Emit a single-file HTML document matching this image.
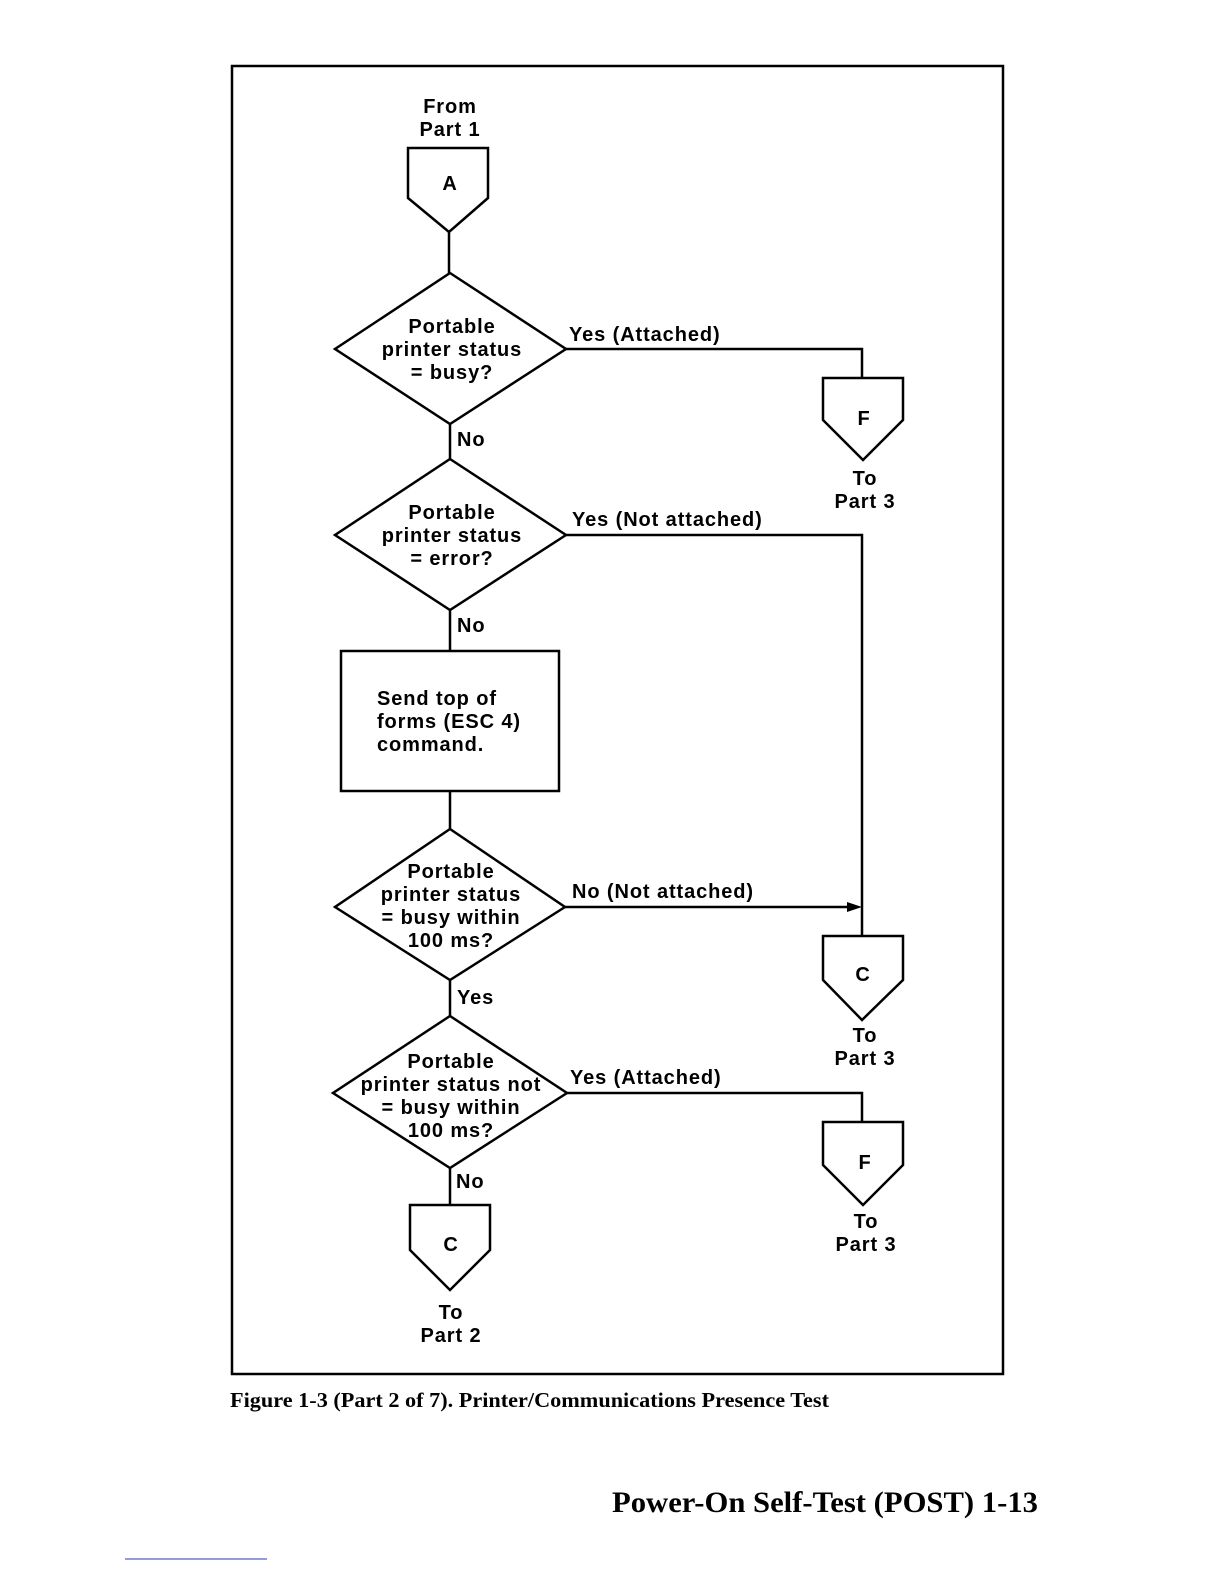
<!DOCTYPE html>
<html><head><meta charset="utf-8"><style>
html,body{margin:0;padding:0;background:#fff;}
svg{display:block;}
.t{font-family:"Liberation Sans",sans-serif;font-weight:bold;font-size:20px;letter-spacing:0.9px;fill:#000;}
.s{font-family:"Liberation Serif",serif;font-weight:bold;fill:#000;}
</style></head><body>
<svg width="1224" height="1584" viewBox="0 0 1224 1584" xmlns="http://www.w3.org/2000/svg">
<g fill="none" stroke="#000" stroke-width="2.5">
<rect x="232" y="66" width="771" height="1308"/>
<path d="M408,148 H488 V198 L449,232 L408,198 Z"/>
<line x1="449" y1="232" x2="449" y2="273"/>
<path d="M450,273 L566,349 L450,424 L335,349 Z"/>
<path d="M566,349 H862 V378"/>
<path d="M823,378 H903 V420 L863,460 L823,420 Z"/>
<line x1="450" y1="424" x2="450" y2="459"/>
<path d="M450,459 L566,535 L450,610 L335,535 Z"/>
<path d="M566,535 H862 V936"/>
<line x1="450" y1="610" x2="450" y2="651"/>
<rect x="341" y="651" width="218" height="140"/>
<line x1="450" y1="791" x2="450" y2="829"/>
<path d="M450,829 L565,907 L450,980 L335,907 Z"/>
<line x1="565" y1="907" x2="852" y2="907"/>
<path d="M823,936 H903 V980 L862,1020 L823,980 Z"/>
<line x1="450" y1="980" x2="450" y2="1016"/>
<path d="M450,1016 L567,1093 L450,1168 L333,1093 Z"/>
<path d="M567,1093 H862 V1122"/>
<path d="M823,1122 H903 V1165 L863,1205 L823,1165 Z"/>
<line x1="450" y1="1168" x2="450" y2="1205"/>
<path d="M410,1205 H490 V1250 L450,1290 L410,1250 Z"/>
</g>
<path d="M862,907 L847,902 L847,912 Z" fill="#000"/>
<line x1="125" y1="1559" x2="267" y2="1559" stroke="#6b7bd0" stroke-width="1.5"/>
<g class="t" text-anchor="middle">
<text x="450" y="113">From</text><text x="450" y="136">Part 1</text>
<text x="450" y="190">A</text>
<text x="452" y="333">Portable</text><text x="452" y="356">printer status</text><text x="452" y="379">= busy?</text>
<text x="864" y="425">F</text>
<text x="865" y="485">To</text><text x="865" y="508">Part 3</text>
<text x="452" y="519">Portable</text><text x="452" y="542">printer status</text><text x="452" y="565">= error?</text>
<text x="451" y="878">Portable</text><text x="451" y="901">printer status</text><text x="451" y="924">= busy within</text><text x="451" y="947">100 ms?</text>
<text x="863" y="981">C</text>
<text x="865" y="1042">To</text><text x="865" y="1065">Part 3</text>
<text x="451" y="1068">Portable</text><text x="451" y="1091">printer status not</text><text x="451" y="1114">= busy within</text><text x="451" y="1137">100 ms?</text>
<text x="865" y="1169">F</text>
<text x="866" y="1228">To</text><text x="866" y="1251">Part 3</text>
<text x="451" y="1251">C</text>
<text x="451" y="1319">To</text><text x="451" y="1342">Part 2</text>
</g>
<g class="t">
<text x="569" y="341">Yes (Attached)</text>
<text x="457" y="446">No</text>
<text x="572" y="526">Yes (Not attached)</text>
<text x="457" y="632">No</text>
<text x="377" y="705">Send top of</text><text x="377" y="728">forms (ESC 4)</text><text x="377" y="751">command.</text>
<text x="572" y="898">No (Not attached)</text>
<text x="457" y="1004">Yes</text>
<text x="570" y="1084">Yes (Attached)</text>
<text x="456" y="1188">No</text>
</g>
<text class="s" x="230" y="1407" font-size="21" textLength="599" lengthAdjust="spacingAndGlyphs">Figure 1-3 (Part 2 of 7).  Printer/Communications Presence Test</text>
<text class="s" x="612" y="1512" font-size="30" textLength="426" lengthAdjust="spacingAndGlyphs">Power-On Self-Test (POST)  1-13</text>
</svg>
</body></html>
